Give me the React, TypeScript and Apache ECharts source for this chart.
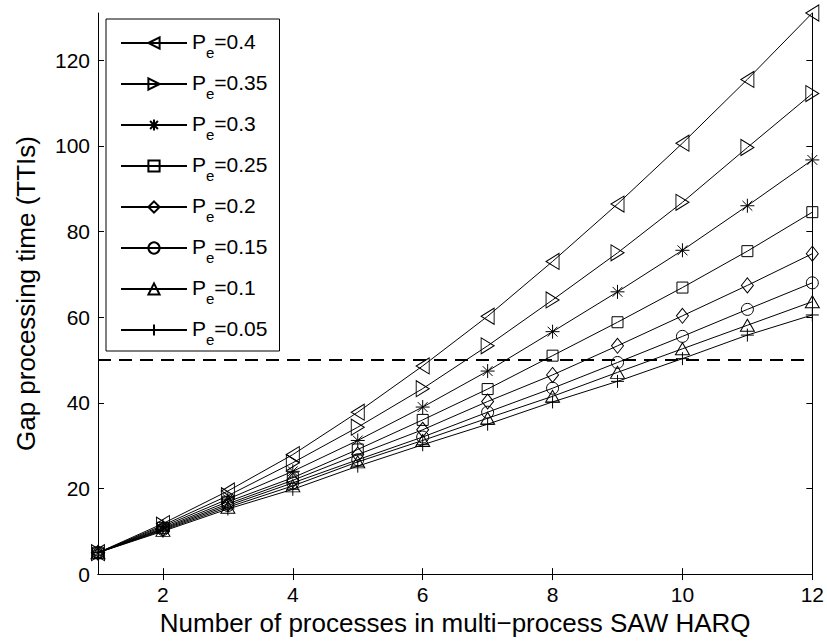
import React, { useEffect, useRef } from "react";
import * as echarts from "echarts";

const processes = [1, 2, 3, 4, 5, 6, 7, 8, 9, 10, 11, 12];
const seriesNames = ["0.4", "0.35", "0.3", "0.25", "0.2", "0.15", "0.1", "0.05"];
const pe040 = [5, 11.8, 19.4, 27.9, 37.8, 48.6, 60.2, 73.0, 86.4, 100.6, 115.5, 131];
const pe035 = [5, 11.4, 18.3, 26.0, 34.3, 43.3, 53.3, 64.0, 75.0, 86.8, 99.6, 112.2];
const pe030 = [5, 11.1, 17.5, 24.0, 31.2, 39.0, 47.4, 56.6, 65.9, 75.6, 86.0, 96.7];
const pe025 = [5, 10.8, 16.9, 22.5, 29.1, 36.0, 43.2, 51.0, 58.8, 66.9, 75.4, 84.5];
const pe020 = [5, 10.6, 16.4, 21.9, 27.9, 33.7, 40.3, 46.5, 53.3, 60.3, 67.4, 74.8];
const pe015 = [5, 10.4, 16.0, 21.3, 26.7, 32.0, 37.8, 43.4, 49.4, 55.5, 61.8, 68.0];
const pe010 = [5, 10.2, 15.6, 20.6, 26.2, 31.2, 36.4, 41.5, 47.1, 52.6, 58.1, 63.6];
const pe005 = [5, 10.0, 15.2, 19.8, 25.2, 30.2, 35.0, 40.2, 45.0, 50.3, 55.8, 60.5];
const thresholdX = [1, 12];
const thresholdY = [50, 50];
const xTicks = [2, 4, 6, 8, 10, 12];
const yTicks = [0, 20, 40, 60, 80, 100, 120];

const FONT = "'Liberation Sans', Arial, Helvetica, sans-serif";

const STAR = "path://M0,-10L0,10M-10,0L10,0M-7,-7L7,7M-7,7L7,-7";
const PLUS = "path://M0,-10L0,10M-10,0L10,0";

const markers: { symbol: string; size: number | number[]; rotate: number }[] = [
  { symbol: "triangle", size: [16, 13], rotate: 90 },
  { symbol: "triangle", size: [16, 13], rotate: -90 },
  { symbol: STAR, size: 14, rotate: 0 },
  { symbol: "rect", size: 11, rotate: 0 },
  { symbol: "diamond", size: [12, 15], rotate: 0 },
  { symbol: "circle", size: 12, rotate: 0 },
  { symbol: "triangle", size: [14, 12], rotate: 0 },
  { symbol: PLUS, size: 13, rotate: 0 },
];

export default function App() {
  const ref = useRef<HTMLDivElement>(null);
  useEffect(() => {
    if (!ref.current) return;
    const chart = echarts.init(ref.current, null, { renderer: "svg" });
    const values = [pe040, pe035, pe030, pe025, pe020, pe015, pe010, pe005];
    const legendNames = seriesNames.map((s) => "Pe=" + s);
    const series: any[] = values.map((vals, i) => ({
      name: legendNames[i],
      type: "line",
      data: processes.map((x, j) => [x, vals[j]]),
      symbol: markers[i].symbol,
      symbolSize: markers[i].size,
      symbolRotate: markers[i].rotate,
      showAllSymbol: true,
      lineStyle: { color: "#000", width: 1 },
      itemStyle: { color: "rgba(0,0,0,0)", borderColor: "#000", borderWidth: 1 },
      emphasis: { disabled: true },
      z: 3,
    }));
    series.push({
      name: "threshold",
      type: "line",
      data: thresholdX.map((x, j) => [x, thresholdY[j]]),
      symbol: "none",
      lineStyle: { color: "#000", width: 2, type: [13, 8] },
      emphasis: { disabled: true },
      silent: true,
      z: 2,
    });
    const axisCommon = {
      axisLine: { show: true, lineStyle: { color: "#000", width: 1 } },
      splitLine: { show: false },
    };
    chart.setOption({
      animation: false,
      textStyle: { fontFamily: FONT },
      grid: { left: 98, right: 14, top: 13, bottom: 64, containLabel: false },
      legend: {
        data: legendNames,
        orient: "vertical",
        left: 106,
        top: 19,
        padding: [12, 12, 4, 14],
        itemWidth: 66,
        itemHeight: 14,
        itemGap: 12,
        selectedMode: false,
        backgroundColor: "#fff",
        borderColor: "#000",
        borderWidth: 1,
        borderRadius: 0,
        formatter: (name: string) => "{p|P}{e|e}{p|" + name.slice(2) + "}",
        textStyle: {
          fontFamily: FONT,
          color: "#000",
          rich: {
            p: { fontSize: 21, fontFamily: FONT, color: "#000", lineHeight: 24, verticalAlign: "top" },
            e: { fontSize: 15, fontFamily: FONT, color: "#000", lineHeight: 16, padding: [14, 0, 0, 0], verticalAlign: "top" },
          },
        },
      },
      xAxis: [
        {
          type: "value",
          min: 1,
          max: 12,
          name: "Number of processes in multi\u2212process SAW HARQ",
          nameLocation: "middle",
          nameGap: 30,
          nameTextStyle: { fontSize: 26, color: "#000", fontFamily: FONT },
          ...axisCommon,
          axisTick: { show: true, inside: true, length: 6, customValues: xTicks, lineStyle: { color: "#000" } },
          axisLabel: { show: true, customValues: xTicks, fontSize: 21, color: "#000", margin: 10, fontFamily: FONT },
        },
        {
          type: "value",
          min: 1,
          max: 12,
          position: "top",
          ...axisCommon,
          axisTick: { show: true, inside: true, length: 6, customValues: xTicks, lineStyle: { color: "#000" } },
          axisLabel: { show: false },
        },
      ],
      yAxis: [
        {
          type: "value",
          min: 0,
          max: 131,
          name: "Gap processing time (TTIs)",
          nameLocation: "middle",
          nameGap: 59,
          nameRotate: 90,
          nameTextStyle: { fontSize: 26, color: "#000", fontFamily: FONT },
          ...axisCommon,
          axisTick: { show: true, inside: true, length: 6, customValues: yTicks, lineStyle: { color: "#000" } },
          axisLabel: { show: true, customValues: yTicks, fontSize: 21, color: "#000", margin: 8, fontFamily: FONT },
        },
        {
          type: "value",
          min: 0,
          max: 131,
          position: "right",
          ...axisCommon,
          axisTick: { show: true, inside: true, length: 6, customValues: yTicks, lineStyle: { color: "#000" } },
          axisLabel: { show: false },
        },
      ],
      series,
    });
    return () => chart.dispose();
  }, []);
  return (
    <div
      ref={ref}
      style={{ position: "fixed", left: 0, top: 0, width: 827, height: 641, background: "#fff" }}
    />
  );
}
